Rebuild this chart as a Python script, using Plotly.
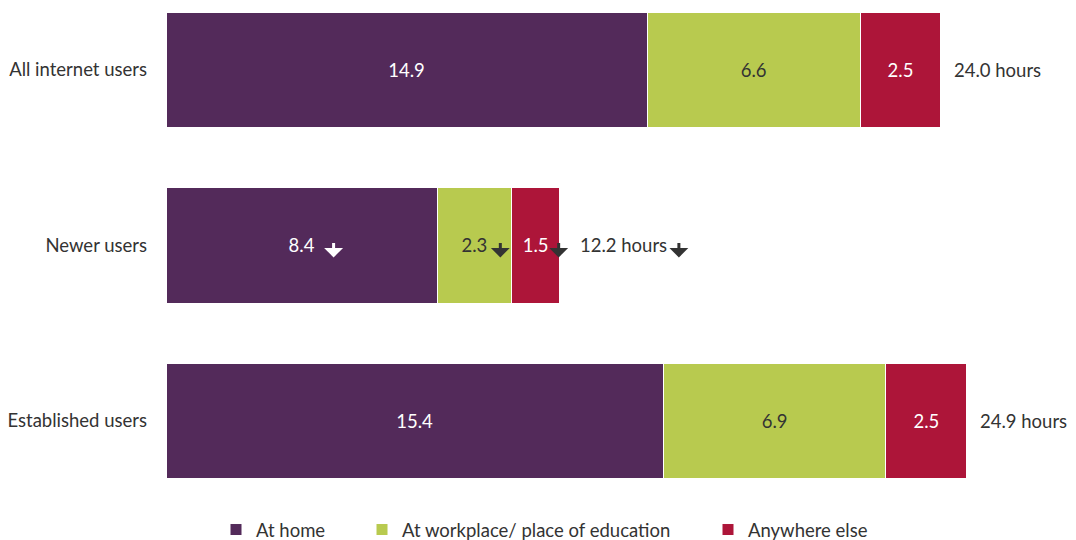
import plotly.graph_objects as go

categories = ["All internet users", "Newer users", "Established users"]
at_home = [14.9, 8.4, 15.4]
at_work = [6.6, 2.3, 6.9]
elsewhere = [2.5, 1.5, 2.5]
totals = [24.0, 12.2, 24.9]
# significant decrease markers (segment home, work, else, total)
decrease = [
    [False, False, False, False],
    [True, True, True, True],
    [False, False, False, False],
]

series = [
    ("At home", at_home, "#532A5A", "white"),
    ("At workplace/ place of education", at_work, "#B8CA4F", "#333333"),
    ("Anywhere else", elsewhere, "#AD1539", "white"),
]
arrow_colors = ["white", "#333333", "#333333", "#333333"]
arrow_shifts = [32, 26, 23]

FONT = "Lato"
FS = 18.5
# page body has an 8px margin, so the figure is drawn 8px smaller
W, H = 1068, 532
fig = go.Figure()

for i, (name, vals, col, txtcol) in enumerate(series):
    fig.add_trace(go.Bar(
        name=name,
        y=categories,
        x=vals,
        orientation="h",
        marker=dict(color=col, line=dict(color="white", width=1)),
        width=0.66,
        text=[f"{v:.1f}" for v in vals],
        textposition="inside",
        insidetextanchor="middle",
        textangle=0,
        textfont=dict(color=txtcol, size=FS, family=FONT),
        legend="legend" if i == 0 else f"legend{i + 1}",
        hoverinfo="skip",
    ))


def down_arrow(x, y, xshift, color):
    return dict(
        x=x, y=y, xshift=xshift, yshift=-12, text="", showarrow=True,
        ax=0, ay=-16, axref="pixel", ayref="pixel",
        arrowhead=1, arrowsize=1.05, arrowwidth=3, arrowcolor=color,
        standoff=0, startstandoff=0,
    )


annotations = []
for c, cat in enumerate(categories):
    left = 0
    segs = [at_home[c], at_work[c], elsewhere[c]]
    for s, v in enumerate(segs):
        if decrease[c][s]:
            annotations.append(down_arrow(left + v / 2, cat, arrow_shifts[s], arrow_colors[s]))
        left += v
    annotations.append(dict(
        x=left, y=cat, text=f"{totals[c]:.1f} hours", showarrow=False, xanchor="left",
        xshift=18 if decrease[c][2] else 11,
        font=dict(family=FONT, size=FS, color="#333333"),
    ))
    if decrease[c][3]:
        annotations.append(down_arrow(left, cat, 119, arrow_colors[3]))

legend_px = [208, 354, 700]
legends = {}
for i, px in enumerate(legend_px):
    key = "legend" if i == 0 else f"legend{i + 1}"
    legends[key] = dict(
        x=px / W, y=1 - 522 / H, xref="container", yref="container",
        xanchor="left", yanchor="middle",
        orientation="h", bgcolor="rgba(0,0,0,0)",
        font=dict(family=FONT, size=FS, color="#333333"),
    )

fig.update_layout(
    width=W, height=H,
    margin=dict(l=158, r=6, t=0, b=41, autoexpand=False),
    barmode="stack",
    plot_bgcolor="white", paper_bgcolor="white",
    font=dict(family=FONT, size=FS, color="#333333"),
    showlegend=True,
    annotations=annotations,
    **legends,
)
fig.update_xaxes(range=[0, 28], visible=False, fixedrange=True)
fig.update_yaxes(
    type="category", categoryorder="array", categoryarray=categories,
    range=[2.445, -0.353], showgrid=False, zeroline=False, showline=False,
    ticks="", ticklabelstandoff=18,
    tickfont=dict(family=FONT, size=FS, color="#333333"),
)

fig.write_html("out.html")
